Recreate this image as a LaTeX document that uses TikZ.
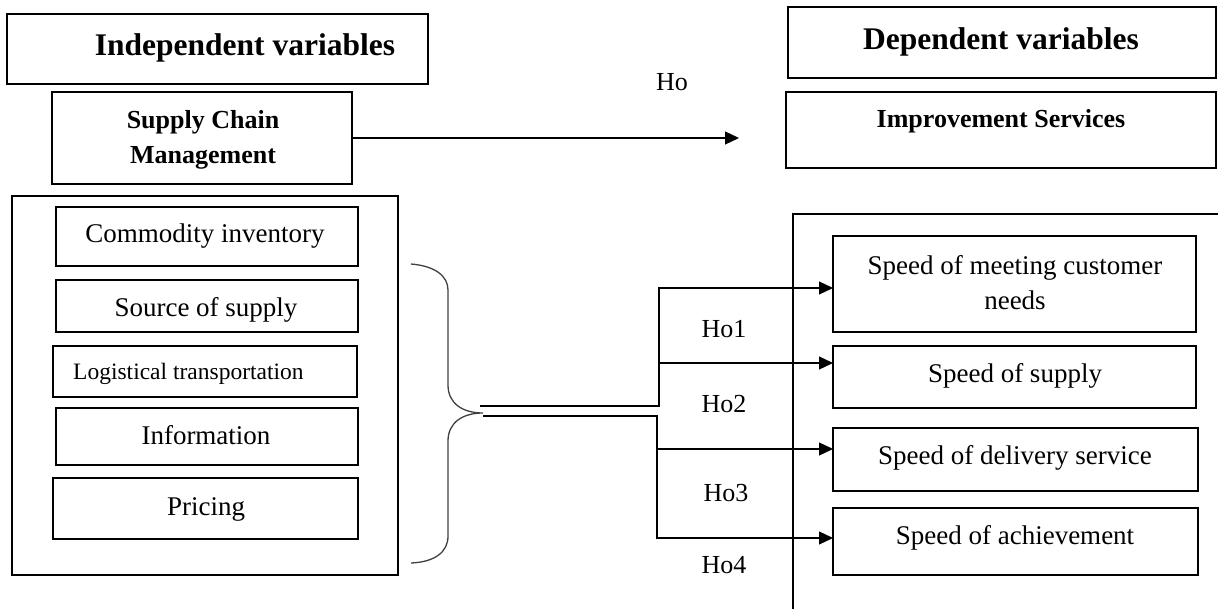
\documentclass[tikz,border=0pt]{standalone}
\usepackage{fontspec}
\setmainfont{Liberation Serif}
\usetikzlibrary{arrows.meta,calc}
\begin{document}
\begin{tikzpicture}[x=1pt,y=-1pt,
  box/.style={draw,line width=1.2pt,inner sep=0pt,outer sep=0pt,anchor=north west},
  lbl/.style={inner sep=0pt,outer sep=0pt,anchor=base},
  titlefont/.style={font=\fontsize{31.5}{36}\selectfont\bfseries},
  subfont/.style={font=\fontsize{26}{35}\selectfont\bfseries},
  itemfont/.style={font=\fontsize{27}{35}\selectfont},
  hofont/.style={font=\fontsize{26}{30}\selectfont},
  conn/.style={line width=1.2pt},
  arr/.style={conn,-{Triangle[length=14pt,width=13pt]}},
  bracestyle/.style={line width=1.3pt,draw=black!75}]
\useasboundingbox (0,0) rectangle (1218,609);
\clip (0,0) rectangle (1218,609);

% ---------- left side ----------
\node[box,minimum width=421pt,minimum height=70pt] (indep) at (7,14) {};
\node[lbl,titlefont] (indeptxt) at (245,56) {Independent variables};

\node[box,minimum width=300pt,minimum height=92pt] (scm) at (52,92) {};
\node[subfont,align=center,inner sep=0pt] (scmtxt) at (203,140) {Supply Chain\\Management};

\node[box,minimum width=386pt,minimum height=379pt] (louter) at (12,196) {};
\node[box,minimum width=302pt,minimum height=59pt] (comm) at (56,207) {};
\node[lbl,itemfont] (commtxt) at (205,243) {Commodity inventory};
\node[box,minimum width=302pt,minimum height=52pt] (src) at (56,280) {};
\node[lbl,itemfont] (srctxt) at (206,317) {Source of supply};
\node[box,minimum width=304pt,minimum height=51pt] (logi) at (53,346) {};
\node[inner sep=0pt,anchor=base west,font=\fontsize{23.5}{28}\selectfont] (logitxt) at (73,380) {Logistical transportation};
\node[box,minimum width=302pt,minimum height=57pt] (info) at (56,408) {};
\node[lbl,itemfont] (infotxt) at (206,444) {Information};
\node[box,minimum width=305pt,minimum height=61pt] (pric) at (53,478) {};
\node[lbl,itemfont] (prictxt) at (206,515) {Pricing};

% ---------- right side ----------
\node[box,minimum width=428pt,minimum height=71pt] (dep) at (788,7) {};
\node[lbl,titlefont] (deptxt) at (1001,50) {Dependent variables};
\node[box,minimum width=430pt,minimum height=76pt] (imp) at (786,92) {};
\node[lbl,subfont] (imptxt) at (1001,128) {Improvement Services};

\coordinate (rtop) at (793,214);
\draw[line width=1.2pt] (1230,214) -- (rtop) -- (793,620);

\node[box,minimum width=363pt,minimum height=96pt] (sm) at (833,236) {};
\node[itemfont,align=center,inner sep=0pt] (smtxt) at (1015,283) {Speed of meeting customer\\needs};
\node[box,minimum width=363pt,minimum height=62pt] (ss) at (833,346) {};
\node[lbl,itemfont] (sstxt) at (1015,382) {Speed of supply};
\node[box,minimum width=365pt,minimum height=63pt] (sd) at (833,428) {};
\node[lbl,itemfont] (sdtxt) at (1015,464) {Speed of delivery service};
\node[box,minimum width=365pt,minimum height=67pt] (sa) at (833,508) {};
\node[lbl,itemfont] (satxt) at (1015,544) {Speed of achievement};

% ---------- top arrow ----------
\coordinate (hoend) at (739,138);
\draw[arr] (scm.east) -- (hoend);
\node[lbl,hofont] (ho) at (672,91) {Ho};

% ---------- brace ----------
\coordinate (btop) at (411,264);
\coordinate (btip) at (483,413);
\coordinate (bbot) at (411,563);
\draw[bracestyle] (btop) .. controls (435,266) and (448,276) .. (448,290)
  -- (448,385) .. controls (448,403) and (462,413) .. (btip)
  .. controls (462,413) and (448,423) .. (448,441)
  -- (448,536) .. controls (448,552) and (435,562) .. (bbot);

% ---------- connectors ----------
\coordinate (up) at (480,406);
\coordinate (lo) at (483,416);
\coordinate (ua) at (659,288);
\coordinate (ub) at (659,363);
\coordinate (uc) at (659,406);
\coordinate (la) at (657,416);
\coordinate (lb) at (657,449);
\coordinate (lc) at (657,538);
\draw[arr] (up) -- (uc) -- (ua) -- (ua -| sm.west);
\draw[arr] (ub) -- (ub -| ss.west);
\draw[arr] (lo) -- (la) -- (lc) -- (lc -| sa.west);
\draw[arr] (lb) -- (lb -| sd.west);

\node[lbl,hofont] (ho1) at (724,338) {Ho1};
\node[lbl,hofont] (ho2) at (724,413) {Ho2};
\node[lbl,hofont] (ho3) at (726,501) {Ho3};
\node[lbl,hofont] (ho4) at (724,573) {Ho4};
\end{tikzpicture}
\end{document}
